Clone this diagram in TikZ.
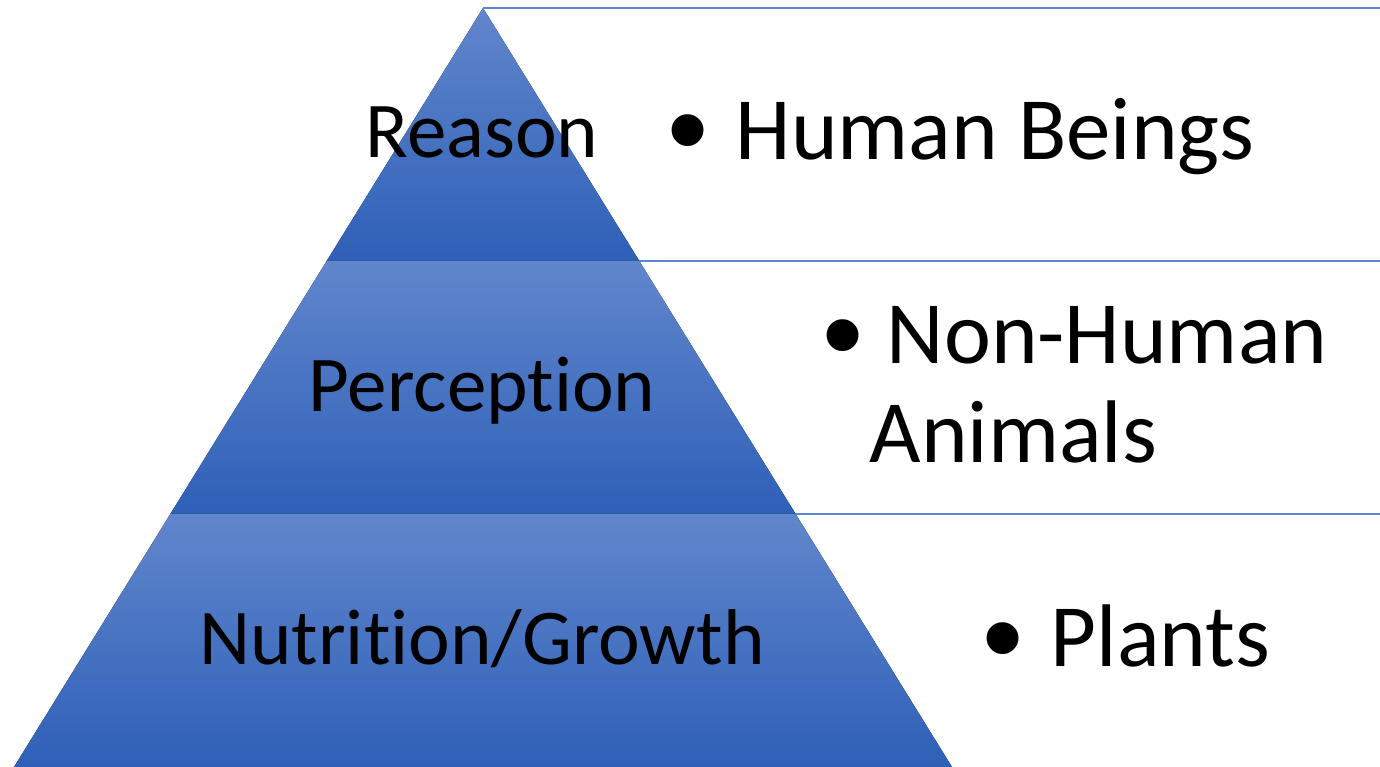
\documentclass[tikz,border=0pt]{standalone}
\usepackage{fontspec}
\setmainfont{Carlito}[Ligatures=NoCommon]
\newfontfamily\bulletfont{Liberation Sans}
\usetikzlibrary{calc,positioning}
\definecolor{tierlight}{HTML}{6186CC}
\definecolor{tierdark}{HTML}{2E60B8}
\definecolor{rulecol}{HTML}{5A86D2}
\tikzset{
tier/.style={top color=tierlight, bottom color=tierdark}, % shaded band of the pyramid
tierlabel/.style={anchor=base, inner sep=0pt, font=\fontsize{22.5}{26}\selectfont},
itemtext/.style={anchor=base west, inner sep=0pt, align=left, font=\fontsize{25.3}{28.2}\selectfont},
bulletmark/.style={anchor=center, inner sep=0pt, font=\bulletfont\fontsize{33.4}{34}\selectfont},
divider/.style={draw=rulecol, line width=0.45pt},
}

\begin{document}
\begin{tikzpicture}[x=0.1mm,y=-0.1mm]
		\useasboundingbox (0,0) rectangle (1380,767);
		\coordinate (apex)  at (483,8);
		\coordinate (baseL) at (14,767);
		\coordinate (baseR) at (952,767);
		\coordinate (edge)  at (1380,0);
		\coordinate (l1L) at ($(apex)!1/3!(baseL)$);
		\coordinate (l1R) at ($(apex)!1/3!(baseR)$);
		\coordinate (l2L) at ($(apex)!2/3!(baseL)$);
		\coordinate (l2R) at ($(apex)!2/3!(baseR)$);
		\fill[tier] (apex) -- (l1R) -- (l1L) -- cycle;
		\fill[tier] (l1L) -- (l1R) -- (l2R) -- (l2L) -- cycle;
		\fill[tier] (l2L) -- (l2R) -- (baseR) -- (baseL) -- cycle;
		\path[divider]
		(apex) edge (apex -| edge)
		(l1R) edge (l1R -| edge)
		(l2R) edge (l2R -| edge);
		\node[tierlabel] (reason)     at (482,157) {Reason};
		\node[tierlabel] (perception) at (482,411) {Perception};
		\node[tierlabel] (nutrition)  at (482,665) {Nutrition/Growth};
		\node[itemtext] (humans)  at (735,160) {Human Beings};
		\node[itemtext] (animals) at (869,463) {\hspace*{1.7mm}Non-Human\\Animals};
		\node[itemtext] (plants)  at (1050,667) {Plants};
		\node[bulletmark] (b_1) at (688,142) {•};
		\node[bulletmark] (b_2) at (843,347) {•};
		\node[bulletmark] (b_3) at (1003,650) {•};
		\end{tikzpicture}
\end{document}
